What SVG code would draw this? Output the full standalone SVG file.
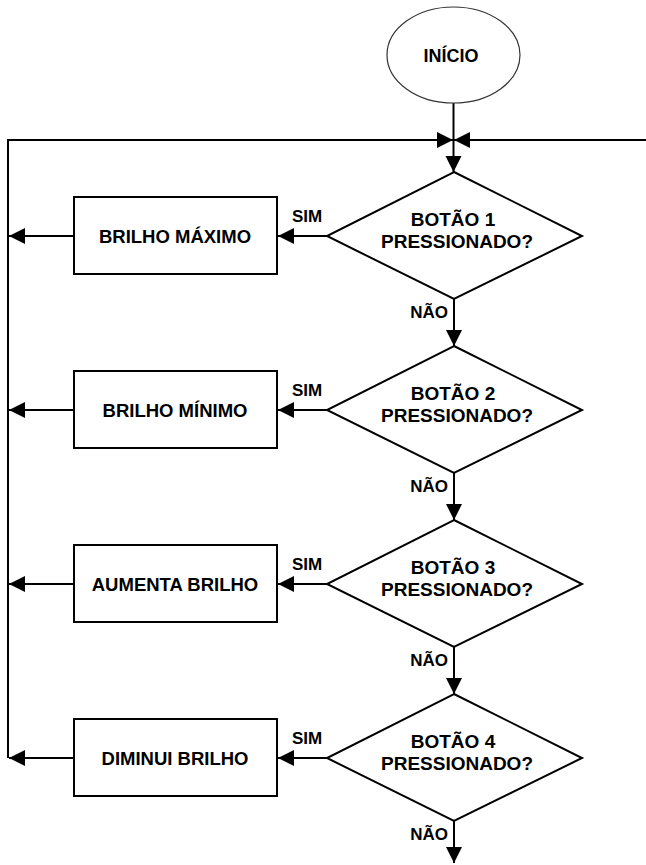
<svg xmlns="http://www.w3.org/2000/svg" width="646" height="865" viewBox="0 0 646 865">
  <style>
    .shape { fill: #ffffff; stroke: #000000; stroke-width: 2; }
    .start { fill: #ffffff; stroke: #333333; stroke-width: 1.2; }
    .wire { fill: none; stroke: #000000; stroke-width: 2; }
    text { font-family: "Liberation Sans", Arial, sans-serif; fill: #000000; font-weight: bold; }
    .lbl { font-size: 18.5px; text-anchor: middle; }
    .dlbl { font-size: 19px; text-anchor: middle; }
    .tag { font-size: 17px; }
  </style>
  <defs>
    <marker id="arrow" markerUnits="userSpaceOnUse" markerWidth="17" markerHeight="17" refX="16" refY="8" orient="auto">
      <path d="M0,0 L16,8 L0,16 Z" fill="#000000"/>
    </marker>
  </defs>
  <rect width="646" height="865" fill="#ffffff"/>

  <!-- connectors -->
  <g id="connectors">
    <line class="wire" x1="453.5" y1="103" x2="453.5" y2="172" marker-end="url(#arrow)"/>
    <polyline class="wire" points="8,758 8,140 453,140" marker-end="url(#arrow)"/>
    <line class="wire" x1="646" y1="140" x2="454" y2="140" marker-end="url(#arrow)"/>

    <line class="wire" x1="327" y1="236" x2="278" y2="236" marker-end="url(#arrow)"/>
    <line class="wire" x1="74" y1="236" x2="9" y2="236" marker-end="url(#arrow)"/>
    <line class="wire" x1="454" y1="299" x2="454" y2="346" marker-end="url(#arrow)"/>

    <line class="wire" x1="327" y1="410" x2="278" y2="410" marker-end="url(#arrow)"/>
    <line class="wire" x1="74" y1="410" x2="9" y2="410" marker-end="url(#arrow)"/>
    <line class="wire" x1="454" y1="473" x2="454" y2="520" marker-end="url(#arrow)"/>

    <line class="wire" x1="327" y1="584" x2="278" y2="584" marker-end="url(#arrow)"/>
    <line class="wire" x1="74" y1="584" x2="9" y2="584" marker-end="url(#arrow)"/>
    <line class="wire" x1="454" y1="647" x2="454" y2="694" marker-end="url(#arrow)"/>

    <line class="wire" x1="327" y1="758" x2="278" y2="758" marker-end="url(#arrow)"/>
    <line class="wire" x1="74" y1="758" x2="9" y2="758" marker-end="url(#arrow)"/>
    <line class="wire" x1="454" y1="821" x2="454" y2="863" marker-end="url(#arrow)"/>

    <text class="tag" x="292" y="222">SIM</text>
    <text class="tag" x="292" y="396">SIM</text>
    <text class="tag" x="292" y="570">SIM</text>
    <text class="tag" x="292" y="744">SIM</text>
    <text class="tag" x="448" y="318" text-anchor="end">NÃO</text>
    <text class="tag" x="448" y="492" text-anchor="end">NÃO</text>
    <text class="tag" x="448" y="666" text-anchor="end">NÃO</text>
    <text class="tag" x="448" y="840" text-anchor="end">NÃO</text>
  </g>

  <!-- start terminal -->
  <g id="inicio">
    <ellipse class="start" cx="453.5" cy="55" rx="66.5" ry="48"/>
    <text class="lbl" x="451" y="62" style="font-size:18px">INÍCIO</text>
  </g>

  <!-- decisions -->
  <g id="botao1">
    <polygon class="shape" points="454,172 582,236 454,299 327,236"/>
    <text class="dlbl" x="453" y="226">BOTÃO 1</text>
    <text class="dlbl" x="457" y="248">PRESSIONADO?</text>
  </g>
  <g id="botao2">
    <polygon class="shape" points="454,346 582,410 454,473 327,410"/>
    <text class="dlbl" x="453" y="400">BOTÃO 2</text>
    <text class="dlbl" x="457" y="422">PRESSIONADO?</text>
  </g>
  <g id="botao3">
    <polygon class="shape" points="454,520 582,584 454,647 327,584"/>
    <text class="dlbl" x="453" y="574">BOTÃO 3</text>
    <text class="dlbl" x="457" y="596">PRESSIONADO?</text>
  </g>
  <g id="botao4">
    <polygon class="shape" points="454,694 582,758 454,821 327,758"/>
    <text class="dlbl" x="453" y="748">BOTÃO 4</text>
    <text class="dlbl" x="457" y="770">PRESSIONADO?</text>
  </g>

  <!-- actions -->
  <g id="brilho-maximo">
    <rect class="shape" x="74" y="197" width="203" height="77"/>
    <text class="lbl" x="175" y="243">BRILHO MÁXIMO</text>
  </g>
  <g id="brilho-minimo">
    <rect class="shape" x="74" y="371" width="203" height="77"/>
    <text class="lbl" x="175" y="417">BRILHO MÍNIMO</text>
  </g>
  <g id="aumenta-brilho">
    <rect class="shape" x="74" y="545" width="203" height="77"/>
    <text class="lbl" x="175" y="591">AUMENTA BRILHO</text>
  </g>
  <g id="diminui-brilho">
    <rect class="shape" x="74" y="719" width="203" height="77"/>
    <text class="lbl" x="175" y="765">DIMINUI BRILHO</text>
  </g>
</svg>
